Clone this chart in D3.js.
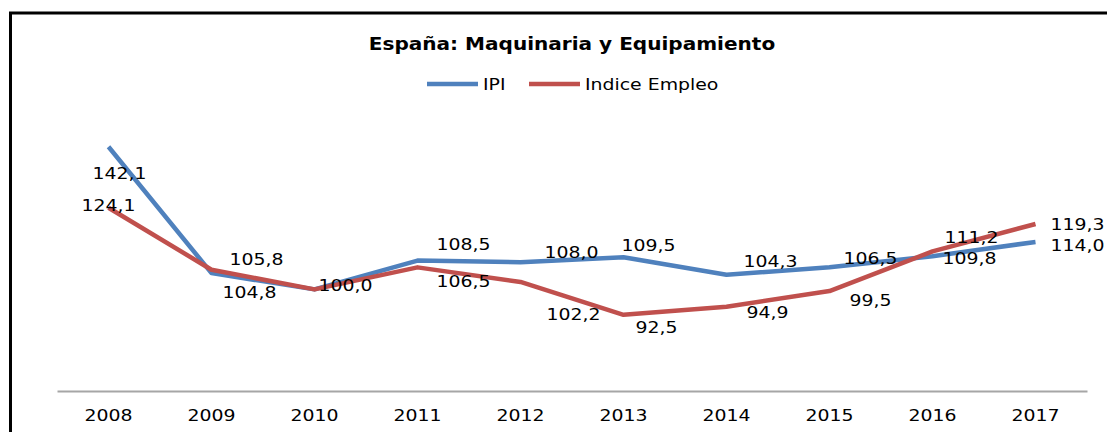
<!DOCTYPE html>
<html>
<head>
<meta charset="utf-8">
<script src="https://cdn.jsdelivr.net/npm/d3@7"></script>
<style>
  body { margin: 0; background: #fff; }
  svg text { font-family: "DejaVu Sans", Verdana, sans-serif; fill: #000; }
</style>
</head>
<body>
<svg id="chart"></svg>
<script>
'use strict';

// chart data
var years = ['2008', '2009', '2010', '2011', '2012', '2013', '2014', '2015', '2016', '2017'];
var ipi = [142.1, 104.8, 100.0, 108.5, 108.0, 109.5, 104.3, 106.5, 109.8, 114.0];
var empleo = [124.1, 105.8, 100.0, 106.5, 102.2, 92.5, 94.9, 99.5, 111.2, 119.3];
var seriesNames = ['IPI', 'Indice Empleo'];
var title = 'España: Maquinaria y Equipamiento';

function render() {
    var w = 1107;
    var h = 432;
    var sx = 1.18; // text is drawn a bit wide in the original

    var colors = ['#4F81BD', '#C0504D'];
    // where each value label sits relative to its point (px)
    var nudges = [
        [[11, 26], [38, 19], [31, -4], [46, -16], [51, -10], [25, -12], [44, -14], [41, -9], [37, 2], [42, 3]],
        [[0, -3], [45, -10], [31, -4], [46, 14], [53, 32], [33, 12], [41, 6], [41, 9], [39, -14], [42, 0]]
    ];

    var es = d3.formatLocale({ decimal: ',', thousands: '.', grouping: [3], currency: ['', '€'] });
    var f = es.format('.1f');

    var svg = d3.select('#chart').attr('width', w).attr('height', h);

    // outer frame (only top/left edges are inside the picture)
    svg.append('rect')
        .attr('x', 10.5).attr('y', 13)
        .attr('width', 1200).attr('height', 600)
        .attr('fill', 'none').attr('stroke', '#000').attr('stroke-width', 3);

    var x = d3.scaleBand().domain(years).range([57, 1087]).padding(0);
    var y = d3.scaleLinear().domain([70, 150]).range([391, 120]);

    var xAxis = d3.axisBottom(x).tickSizeInner(0).tickSizeOuter(0).tickPadding(19);
    var ax = svg.append('g').attr('transform', 'translate(0,391)').call(xAxis);
    ax.select('.domain').attr('stroke', '#A6A6A6').attr('stroke-width', 2);
    ax.selectAll('.tick text')
        .attr('font-size', 16)
        .attr('font-family', '"DejaVu Sans", Verdana, sans-serif')
        .attr('fill', '#000')
        .attr('transform', 'scale(' + sx + ',1)');

    var series = [ipi, empleo];
    var line = d3.line()
        .x(function (d, i) { return x(years[i]) + x.bandwidth() / 2; })
        .y(function (d) { return y(d); });

    series.forEach(function (vals, s) {
        svg.append('path')
            .datum(vals)
            .attr('d', line)
            .attr('fill', 'none')
            .attr('stroke', colors[s])
            .attr('stroke-width', 4.5)
            .attr('stroke-linejoin', 'round');
    });

    // value labels (skip a second label that would land exactly on the first)
    series.forEach(function (vals, s) {
        var items = vals.map(function (v, i) { return { v: v, i: i }; }).filter(function (d) {
            return !(s === 1 && ipi[d.i] === d.v &&
                nudges[0][d.i][0] === nudges[1][d.i][0] && nudges[0][d.i][1] === nudges[1][d.i][1]);
        });
        svg.selectAll('.lbl' + s).data(items).enter().append('g')
            .attr('class', 'lbl' + s)
            .attr('transform', function (d) {
                var px = x(years[d.i]) + x.bandwidth() / 2 + nudges[s][d.i][0];
                var py = y(d.v) + nudges[s][d.i][1];
                return 'translate(' + px + ',' + py + ') scale(' + sx + ',1)';
            })
            .append('text')
            .attr('text-anchor', 'middle')
            .attr('dy', '0.36em')
            .attr('font-size', 16)
            .text(function (d) { return f(d.v); });
    });

    // title
    svg.append('text')
        .attr('transform', 'translate(572,50) scale(' + sx + ',1)')
        .attr('text-anchor', 'middle')
        .attr('font-size', 17)
        .attr('font-weight', 'bold')
        .text(title);

    // legend
    var legendX = [427, 529];
    var legend = svg.selectAll('.legend').data(seriesNames).enter().append('g')
        .attr('class', 'legend')
        .attr('transform', function (d, i) { return 'translate(' + legendX[i] + ',84)'; });
    legend.append('line')
        .attr('x1', 0).attr('x2', 51).attr('y1', 0).attr('y2', 0)
        .attr('stroke', function (d, i) { return colors[i]; })
        .attr('stroke-width', 4.5);
    legend.append('text')
        .attr('transform', 'translate(56,6) scale(' + sx + ',1)')
        .attr('font-size', 16)
        .text(function (d) { return d; });
}

render();
</script>
</body>
</html>
